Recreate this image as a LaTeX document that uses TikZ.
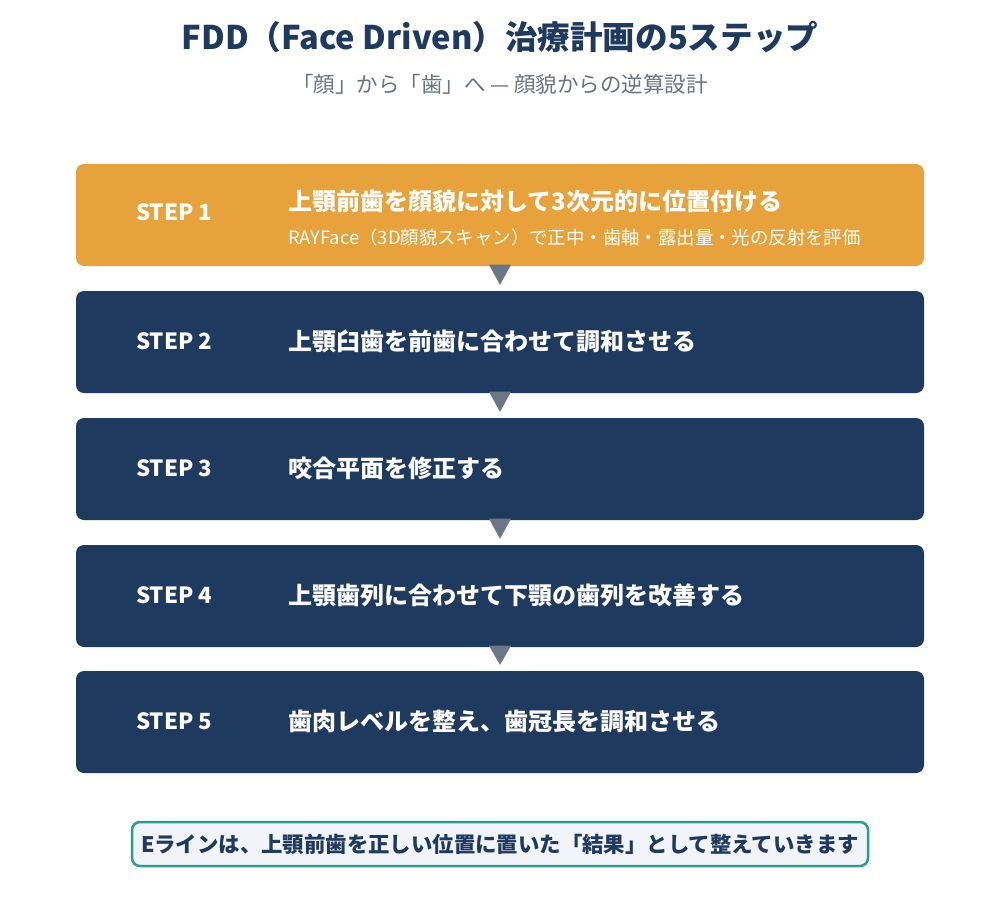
\documentclass[tikz,border=0pt]{standalone}
\usepackage{fontspec}
\setmainfont{Noto Sans CJK JP}
\usetikzlibrary{calc}
\definecolor{navy}{HTML}{1F3A5F}
\definecolor{stepor}{HTML}{E8A23B}
\definecolor{arrowgrey}{HTML}{6B7785}
\definecolor{teal}{HTML}{2A9D8F}
\definecolor{notefill}{HTML}{F1F5F9}
\definecolor{subgrey}{HTML}{6B7280}
\tikzset{
  stepbox/.style={draw=none, rounded corners=8pt, minimum width=848pt, minimum height=102pt, inner sep=0pt},
  steplabel/.style={anchor=base west, inner sep=0pt, text=white, font=\fontsize{22.3}{26}\selectfont\bfseries},
  steptext/.style={anchor=base west, inner sep=0pt, text=white, font=\fontsize{24}{28}\selectfont\bfseries},
  stepsub/.style={anchor=base west, inner sep=0pt, text=white, font=\fontsize{18.4}{22}\selectfont},
  downtri/.style={fill=arrowgrey},
}
\begin{document}
\begin{tikzpicture}[x=1pt,y=-1pt]
\useasboundingbox (0,0) rectangle (1000,908);
\fill[white] (0,0) rectangle (1000,908);
% title
\node[anchor=base, inner sep=0pt, text=navy, font=\fontsize{32.6}{38}\selectfont\bfseries] (title) at (500,49.5) {FDD（Face Driven）治療計画の5ステップ};
\node[anchor=base, inner sep=0pt, text=subgrey, font=\fontsize{21.5}{26}\selectfont] (subtitle) at (500,92) {「顔」から「歯」へ — 顔貌からの逆算設計};
% boxes
\node[stepbox, fill=stepor] (s1) at (500,215) {};
\node[stepbox, fill=navy] (s2) at (500,342) {};
\node[stepbox, fill=navy] (s3) at (500,469) {};
\node[stepbox, fill=navy] (s4) at (500,596) {};
\node[stepbox, fill=navy] (s5) at (500,722) {};
% arrows
\foreach \a/\b in {s1/s2,s2/s3,s3/s4,s4/s5}{
  \fill[downtri] ($(\a.south)+(-11,-1.5)$) -- ($(\a.south)+(11,-1.5)$) -- ($(\b.north)+(0,-6)$) -- cycle;
}
% labels
\node[steplabel] (l1) at (136,220.7) {STEP 1};
\node[steptext] (t1) at (288,210) {上顎前歯を顔貌に対して3次元的に位置付ける};
\node[stepsub] (u1) at (288,244) {RAYFace（3D顔貌スキャン）で正中・歯軸・露出量・光の反射を評価};
\node[steplabel] (l2) at (136,349.5) {STEP 2};
\node[steptext] (t2) at (288,350) {上顎臼歯を前歯に合わせて調和させる};
\node[steplabel] (l3) at (136,476.5) {STEP 3};
\node[steptext] (t3) at (288,477) {咬合平面を修正する};
\node[steplabel] (l4) at (136,603.5) {STEP 4};
\node[steptext] (t4) at (288,604) {上顎歯列に合わせて下顎の歯列を改善する};
\node[steplabel] (l5) at (136,729.5) {STEP 5};
\node[steptext] (t5) at (288,730) {歯肉レベルを整え、歯冠長を調和させる};
% note
\node[draw=teal, line width=2.5pt, fill=notefill, rounded corners=8pt, minimum width=736pt, minimum height=44pt, inner sep=0pt, text=navy, font=\fontsize{21.4}{25}\selectfont\bfseries] (note) at (500,844) {Eラインは、上顎前歯を正しい位置に置いた「結果」として整えていきます};
\end{tikzpicture}
\end{document}
